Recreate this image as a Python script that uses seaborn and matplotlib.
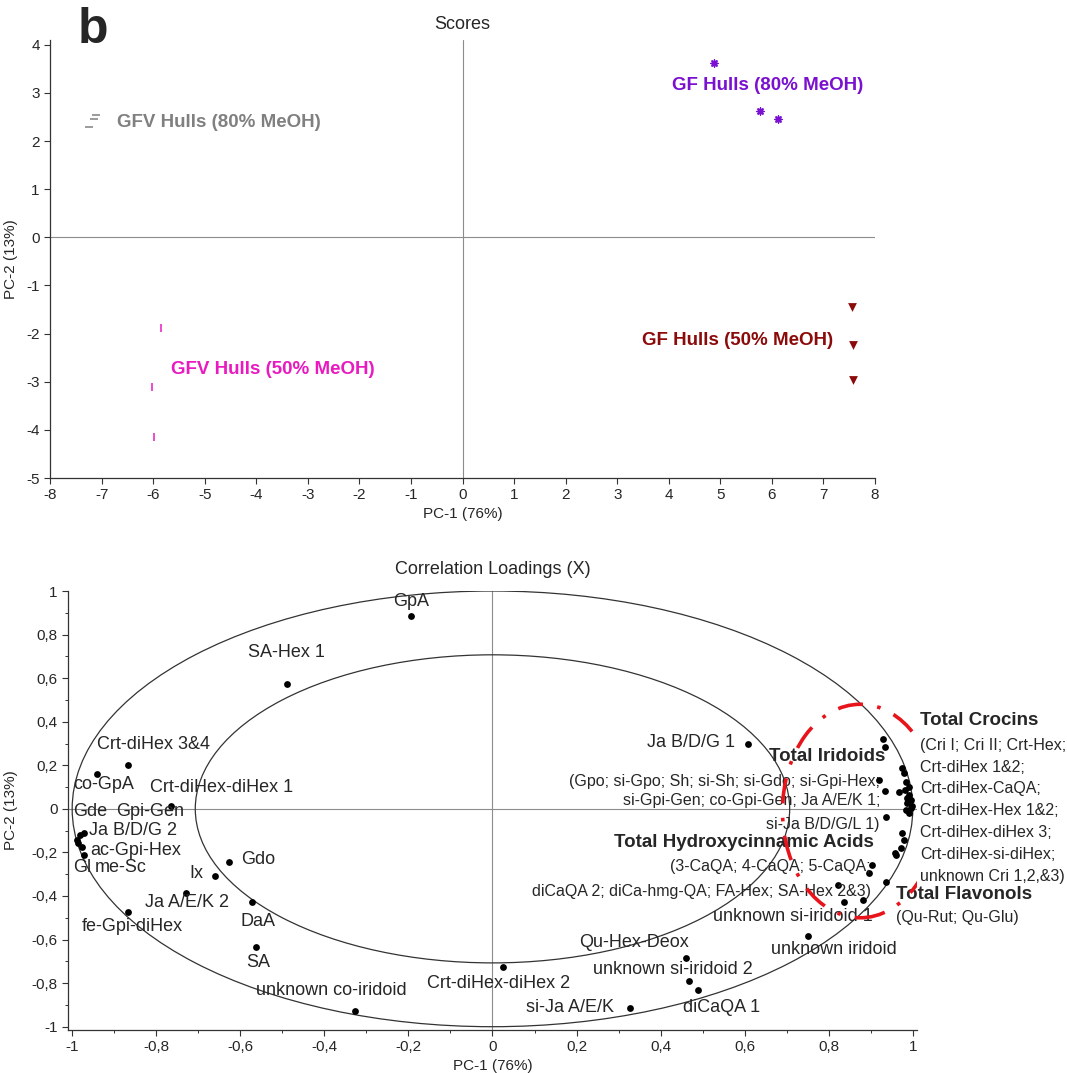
import matplotlib
matplotlib.use("Agg")
import matplotlib.pyplot as plt
import matplotlib.ticker as mticker
from matplotlib.patches import Circle, Ellipse
import seaborn as sns
import pandas as pd
import numpy as np

# ---- scores (PC-1, PC-2) ----
groups = ["GFV Hulls (80% MeOH)", "GF Hulls (80% MeOH)",
          "GFV Hulls (50% MeOH)", "GF Hulls (50% MeOH)"]
gfv80_x = [-7.10, -7.15, -7.25]
gfv80_y = [2.55, 2.45, 2.30]
gf80_x = [4.87, 5.77, 6.11]
gf80_y = [3.63, 2.63, 2.46]
gfv50_x = [-5.84, -6.02, -5.98]
gfv50_y = [-1.89, -3.11, -4.15]
gf50_x = [7.55, 7.58, 7.58]
gf50_y = [-1.45, -2.24, -2.97]

# ---- correlation loadings, named compounds ----
load_names = ["GpA", "SA-Hex 1", "Crt-diHex 3&4", "co-GpA", "Crt-diHex-diHex 1",
              "Ja B/D/G 2", "Gde", "Gpi-Gen", "ac-Gpi-Hex", "Gl", "me-Sc",
              "Gdo", "Ix", "Ja A/E/K 2", "DaA", "fe-Gpi-diHex", "SA",
              "unknown co-iridoid", "Crt-diHex-diHex 2", "si-Ja A/E/K",
              "Qu-Hex-Deox", "unknown si-iridoid 2", "diCaQA 1",
              "unknown iridoid", "Ja B/D/G 1"]
load_x = [-0.195, -0.49, -0.868, -0.94, -0.764,
          -0.972, -0.982, -0.988, -0.976, -0.985, -0.972,
          -0.628, -0.66, -0.73, -0.573, -0.868, -0.562,
          -0.328, 0.025, 0.328,
          0.46, 0.468, 0.488,
          0.75, 0.607]
load_y = [0.885, 0.573, 0.20, 0.16, 0.014,
          -0.109, -0.122, -0.142, -0.175, -0.155, -0.214,
          -0.242, -0.31, -0.385, -0.427, -0.473, -0.632,
          -0.93, -0.725, -0.913,
          -0.685, -0.79, -0.833,
          -0.583, 0.297]

# ---- correlation loadings, summed groups on the right (unlabelled dots) ----
cluster_x = [0.928, 0.933, 0.975, 0.979, 0.983, 0.92, 0.99, 0.967, 0.982,
             0.991, 0.995, 0.987, 0.995, 0.991, 0.983, 0.934, 0.936, 0.975,
             0.979, 0.971, 0.96, 0.904, 0.896, 0.936, 0.821, 0.837, 0.882,
             0.958, 0.998, 0.986]
cluster_y = [0.321, 0.283, 0.187, 0.164, 0.125, 0.133, 0.102, 0.079, 0.087,
             0.064, 0.041, 0.026, 0.003, -0.02, -0.005, 0.084, -0.038, -0.112,
             -0.142, -0.18, -0.211, -0.26, -0.295, -0.338, -0.349, -0.428,
             -0.417, -0.203, 0.015, 0.05]

group_text = {
    "Total Iridoids": ["(Gpo; si-Gpo; Sh; si-Sh; si-Gdo; si-Gpi-Hex;",
                       "si-Gpi-Gen; co-Gpi-Gen; Ja A/E/K 1;",
                       "si-Ja B/D/G/L 1)"],
    "Total Hydroxycinnamic Acids": ["(3-CaQA; 4-CaQA; 5-CaQA;",
                                    "diCaQA 2; diCa-hmg-QA; FA-Hex; SA-Hex 2&3)"],
    "Total Crocins": ["(Cri I; Cri II; Crt-Hex;", "Crt-diHex 1&2;", "Crt-diHex-CaQA;",
                      "Crt-diHex-Hex 1&2;", "Crt-diHex-diHex 3;",
                      "Crt-diHex-si-diHex;", "unknown Cri 1,2,&3)"],
    "Total Flavonols": ["(Qu-Rut; Qu-Glu)"],
}

sns.set_style("white")
plt.rcParams['font.family'] = ['Liberation Sans', 'DejaVu Sans']
plt.rcParams['axes.unicode_minus'] = False
plt.rcParams['xtick.direction'] = 'out'
plt.rcParams['ytick.direction'] = 'out'

colors = ["#808080", "#7A10D0", "#E81AC0", "#8B0A0A"]
markers = ["_", (8, 2, 0), "|", "v"]
marker_sizes = [36, 24, 36, 40]

scores = pd.DataFrame({
    "pc1": gfv80_x + gf80_x + gfv50_x + gf50_x,
    "pc2": gfv80_y + gf80_y + gfv50_y + gf50_y,
    "group": [groups[0]] * 3 + [groups[1]] * 3 + [groups[2]] * 3 + [groups[3]] * 3,
})

fig = plt.figure(figsize=(10.67, 10.73), dpi=100)
ax1 = fig.add_axes([0.0469, 0.5545, 0.7732, 0.4082])
ax2 = fig.add_axes([0.0637, 0.0401, 0.7957, 0.4091])


def comma(v, pos):
    s = f"{v:.1f}".rstrip("0").rstrip(".")
    if s == "-0":
        s = "0"
    return s.replace(".", ",")


# ---- top: scores ----
ax1.axhline(0, color="#8c8c8c", lw=0.8, zorder=0)
ax1.axvline(0, color="#8c8c8c", lw=0.8, zorder=0)
for g, c, m, ms in zip(groups, colors, markers, marker_sizes):
    sub = scores[scores["group"] == g]
    lw = 0 if m == "v" else 1.1
    sns.scatterplot(data=sub, x="pc1", y="pc2", color=c, marker=m, s=ms,
                    linewidth=lw, legend=False, ax=ax1)
ax1.set_xlim(-8, 8)
ax1.set_ylim(-5, 4.1)
ax1.xaxis.set_major_locator(mticker.MultipleLocator(1))
ax1.yaxis.set_major_locator(mticker.MultipleLocator(1))
label_pos = [(-6.70, 2.38), (4.06, 3.15), (-5.65, -2.75), (3.48, -2.15)]
for g, c, (tx, ty) in zip(groups, colors, label_pos):
    ax1.text(tx, ty, g, color=c, fontsize=13.5, fontweight="bold", va="center")
ax1.set_xlabel("PC-1 (76%)", fontsize=11, labelpad=3)
ax1.set_ylabel("PC-2 (13%)", fontsize=11)
ax1.yaxis.set_label_coords(-0.039, 0.5)
fig.text(0.433, 0.977, "Scores", fontsize=13, ha="center", va="center")
fig.text(0.073, 0.972, "b", fontsize=36, fontweight="bold", va="center")

# ---- bottom: correlation loadings ----
ax2.axhline(0, color="#8c8c8c", lw=0.8, zorder=0)
ax2.axvline(0, color="#8c8c8c", lw=0.8, zorder=0)
ax2.add_patch(Circle((0, 0), 1.0, fill=False, lw=0.9, color="#333333"))
ax2.add_patch(Circle((0, 0), np.sqrt(0.5), fill=False, lw=0.9, color="#333333"))
loads = pd.DataFrame({"pc1": load_x + cluster_x, "pc2": load_y + cluster_y})
sns.scatterplot(data=loads, x="pc1", y="pc2", color="black", s=24,
                linewidth=0, ax=ax2, zorder=3)
ax2.add_patch(Ellipse((0.875, -0.01), 0.37, 0.98, fill=False, color="#e8141c",
                      lw=2.6, linestyle=(0, (7, 4, 1, 4)), zorder=4))

name_pos = {
    "GpA": (-0.193, 0.95, "center"), "SA-Hex 1": (-0.49, 0.716, "center"),
    "Crt-diHex 3&4": (-0.94, 0.294, "left"), "co-GpA": (-0.998, 0.11, "left"),
    "Crt-diHex-diHex 1": (-0.815, 0.096, "left"), "Gde": (-0.998, -0.014, "left"),
    "Gpi-Gen": (-0.895, -0.014, "left"), "Ja B/D/G 2": (-0.96, -0.10, "left"),
    "ac-Gpi-Hex": (-0.956, -0.193, "left"), "Gl": (-0.998, -0.268, "left"),
    "me-Sc": (-0.946, -0.268, "left"), "Gdo": (-0.597, -0.234, "left"),
    "Ix": (-0.72, -0.298, "left"), "Ja A/E/K 2": (-0.827, -0.43, "left"),
    "DaA": (-0.60, -0.518, "left"), "fe-Gpi-diHex": (-0.977, -0.54, "left"),
    "SA": (-0.587, -0.706, "left"), "unknown co-iridoid": (-0.563, -0.835, "left"),
    "Crt-diHex-diHex 2": (-0.155, -0.80, "left"), "si-Ja A/E/K": (0.08, -0.913, "left"),
    "Qu-Hex-Deox": (0.207, -0.615, "left"), "unknown si-iridoid 2": (0.238, -0.739, "left"),
    "diCaQA 1": (0.454, -0.913, "left"), "unknown iridoid": (0.663, -0.647, "left"),
    "Ja B/D/G 1": (0.578, 0.303, "right"),
}
for n in load_names:
    tx, ty, ha = name_pos[n]
    ax2.text(tx, ty, n, fontsize=13, ha=ha, va="center", clip_on=False)
ax2.text(0.525, -0.495, "unknown si-iridoid 1", fontsize=13, va="center")

# group labels: (x, y of title, alignment, x of lines, y of each line)
group_pos = {
    "Total Iridoids": (0.934, 0.239, "right", 0.922, [0.124, 0.037, -0.073]),
    "Total Hydroxycinnamic Acids": (0.908, -0.156, "right", 0.90, [-0.266, -0.381]),
    "Total Crocins": (1.017, 0.404, "left", 1.017,
                      [0.289, 0.188, 0.092, -0.009, -0.11, -0.211, -0.312]),
    "Total Flavonols": (0.96, -0.394, "left", 0.96, [-0.50]),
}
for title, lines in group_text.items():
    tx, ty, ha, lx, lys = group_pos[title]
    ax2.text(tx, ty, title, fontsize=13.5, fontweight="bold", ha=ha,
             va="center", clip_on=False)
    for line, ly in zip(lines, lys):
        ax2.text(lx, ly, line, fontsize=11.5, ha=ha, va="center", clip_on=False)

ax2.set_xlim(-1.01, 1.01)
ax2.set_ylim(-1.015, 1.0)
ax2.xaxis.set_major_locator(mticker.MultipleLocator(0.2))
ax2.yaxis.set_major_locator(mticker.MultipleLocator(0.2))
ax2.xaxis.set_minor_locator(mticker.MultipleLocator(0.1))
ax2.yaxis.set_minor_locator(mticker.MultipleLocator(0.1))
ax2.xaxis.set_major_formatter(mticker.FuncFormatter(comma))
ax2.yaxis.set_major_formatter(mticker.FuncFormatter(comma))
ax2.set_xlabel("PC-1 (76%)", fontsize=11, labelpad=3)
ax2.set_ylabel("PC-2 (13%)", fontsize=11)
ax2.yaxis.set_label_coords(-0.059, 0.5)
fig.text(0.462, 0.469, "Correlation Loadings (X)", fontsize=13, ha="center", va="center")

for ax in (ax1, ax2):
    sns.despine(ax=ax)
    for sp in ("left", "bottom"):
        ax.spines[sp].set_color("#333333")
        ax.spines[sp].set_linewidth(0.9)
    ax.tick_params(which="major", length=4, width=0.8, labelsize=11,
                   bottom=True, left=True, color="#333333")
    ax.tick_params(which="minor", length=2.5, width=0.7,
                   bottom=True, left=True, color="#333333")

fig.savefig("out.png", dpi=100)
